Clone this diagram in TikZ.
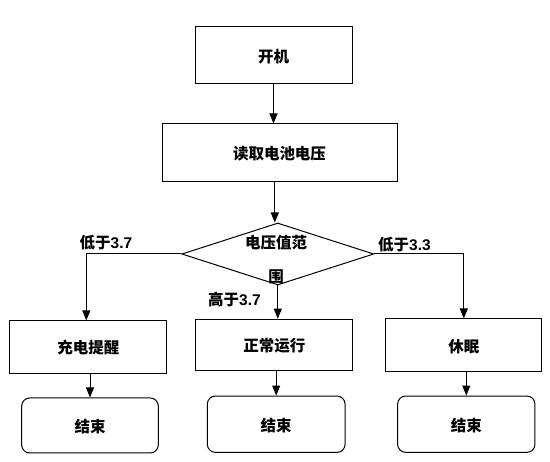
\documentclass[tikz,border=0pt]{standalone}
\usepackage{fontspec}
\setmainfont{Noto Sans CJK SC}
\newfontfamily\latinbold{Liberation Sans}
\usetikzlibrary{arrows.meta,shapes.geometric}
\tikzset{
  base/.style={draw, line width=1pt, inner sep=0pt, font=\fontsize{15.5}{18}\selectfont\bfseries,
    text height=1.5em, text depth=0.12em},
  procbox/.style={base, rectangle},
  endbox/.style={base, rectangle, rounded corners=8pt},
  dia/.style={draw, line width=1pt, diamond, inner sep=0pt, minimum width=192pt, minimum height=62pt},
  lab/.style={inner sep=0pt, font=\fontsize{15.5}{18}\selectfont\bfseries},
  conn/.style={line width=1pt, -{Triangle[length=10pt,width=8pt]}}
}
\newcommand{\numtxt}[1]{{\latinbold\bfseries #1}}
\begin{document}
\begin{tikzpicture}[x=1pt,y=-1pt]
\useasboundingbox (0,0) rectangle (550,462);
\node[procbox, minimum width=157pt, minimum height=57pt] (kj) at (273.5,55.5) {开机};
\node[procbox, minimum width=235pt, minimum height=58pt] (rd) at (279.5,153) {读取电池电压};
\node[dia] (d) at (277.8,254) {};
\node[lab, align=center, font=\fontsize{15.5}{34}\selectfont\bfseries] (dt) at (276,260) {电压值范\\围};
\node[procbox, minimum width=156.7pt, minimum height=52.3pt] (cd) at (88.3,347) {充电提醒};
\node[procbox, minimum width=156.7pt, minimum height=51.7pt] (zc) at (274.3,345) {正常运行};
\node[procbox, minimum width=155.7pt, minimum height=52.7pt] (xm) at (463.8,345.3) {休眠};
\node[endbox, minimum width=136.6pt, minimum height=55pt] (e1) at (90,425.5) {结束};
\node[endbox, minimum width=137.7pt, minimum height=56.3pt] (e2) at (276.2,424.2) {结束};
\node[endbox, minimum width=137.3pt, minimum height=56.3pt] (e3) at (466.3,424.2) {结束};
\node[lab] (l1) at (106,243) {低于\numtxt{3.7}};
\node[lab] (l2) at (404.5,245) {低于\numtxt{3.3}};
\node[lab] (l3) at (234.5,300) {高于\numtxt{3.7}};
\draw[conn] (kj.south) -- (kj.south |- rd.north);
\draw[conn] ([xshift=-3pt]d.north |- rd.south) -- ([xshift=-3pt]d.north);
\draw[conn] (d.west) -| ([xshift=-2pt]cd.north);
\draw[conn] (d.south) -- (d.south |- zc.north);
\draw[conn] (d.east) -| (xm.north);
\draw[conn] (e1.north |- cd.south) -- (e1.north);
\draw[conn] (e2.north |- zc.south) -- (e2.north);
\draw[conn] (e3.north |- xm.south) -- (e3.north);
\end{tikzpicture}
\end{document}
